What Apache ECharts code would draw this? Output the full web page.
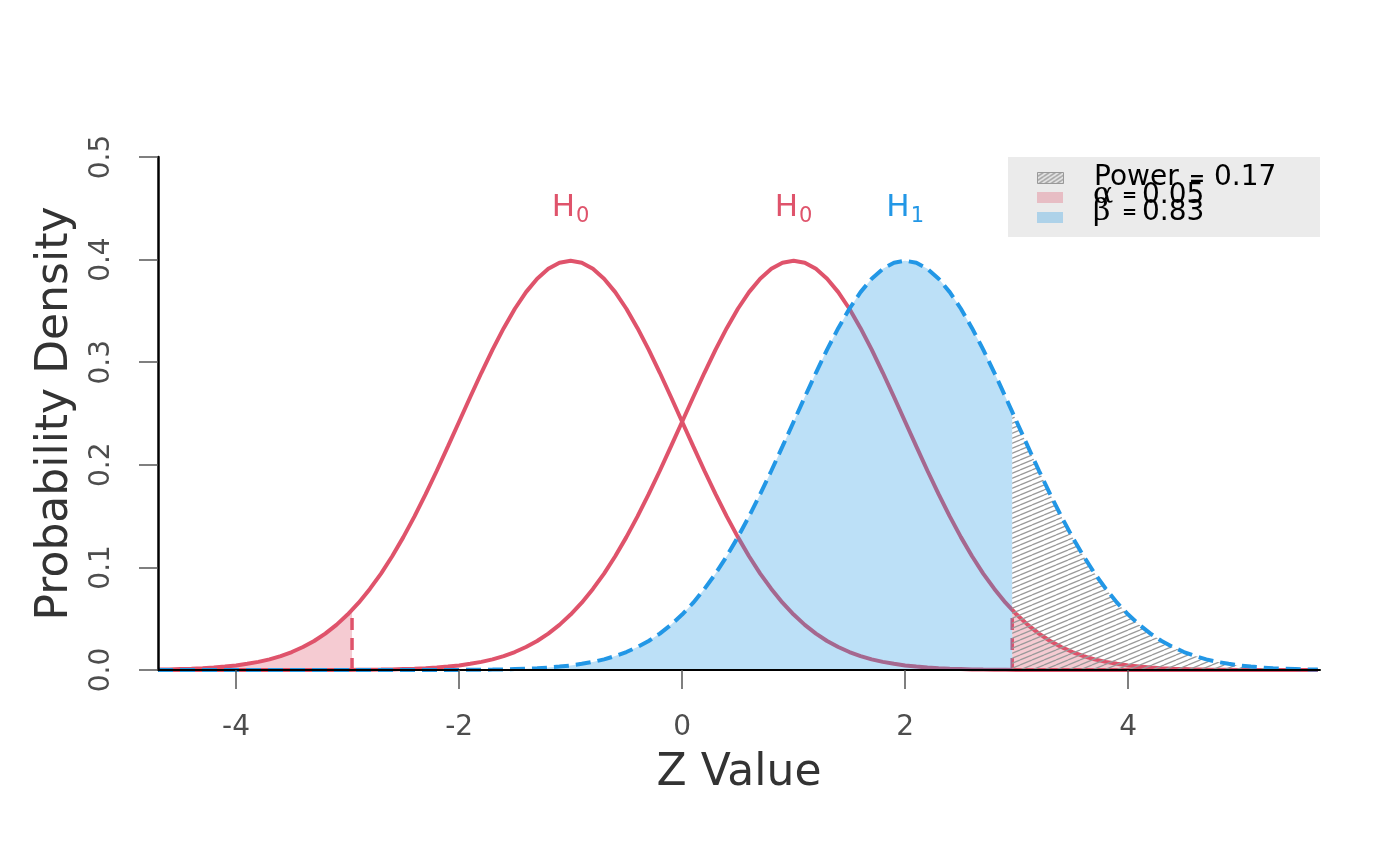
<!DOCTYPE html>
<html>
<head>
<meta charset="utf-8">
<title>Power plot</title>
<script src="https://cdn.jsdelivr.net/npm/echarts@6/dist/echarts.min.js"></script>
<style>
  html, body { margin: 0; padding: 0; background: #fff; }
  #chart { width: 1400px; height: 866px; }
</style>
</head>
<body>
<div id="chart"></div>
<script>
// z grid, -4.7 .. 5.7 in steps of 0.1
const zValues = [
  -4.7, -4.6, -4.5, -4.4, -4.3, -4.2, -4.1, -4.0, -3.9, -3.8,
  -3.7, -3.6, -3.5, -3.4, -3.3, -3.2, -3.1, -3.0, -2.9, -2.8,
  -2.7, -2.6, -2.5, -2.4, -2.3, -2.2, -2.1, -2.0, -1.9, -1.8,
  -1.7, -1.6, -1.5, -1.4, -1.3, -1.2, -1.1, -1.0, -0.9, -0.8,
  -0.7, -0.6, -0.5, -0.4, -0.3, -0.2, -0.1, 0.0, 0.1, 0.2,
  0.3, 0.4, 0.5, 0.6, 0.7, 0.8, 0.9, 1.0, 1.1, 1.2,
  1.3, 1.4, 1.5, 1.6, 1.7, 1.8, 1.9, 2.0, 2.1, 2.2,
  2.3, 2.4, 2.5, 2.6, 2.7, 2.8, 2.9, 3.0, 3.1, 3.2,
  3.3, 3.4, 3.5, 3.6, 3.7, 3.8, 3.9, 4.0, 4.1, 4.2,
  4.3, 4.4, 4.5, 4.6, 4.7, 4.8, 4.9, 5.0, 5.1, 5.2,
  5.3, 5.4, 5.5, 5.6, 5.7
];

// H0 centred on -1
const h0LeftDensity = [
  .0004, .0006, .0009, .0012, .0017, .0024, .0033, .0044, .0060, .0079,
  .0104, .0136, .0175, .0224, .0283, .0355, .0440, .0540, .0656, .0790,
  .0940, .1109, .1295, .1497, .1714, .1942, .2179, .2420, .2661, .2897,
  .3123, .3332, .3521, .3683, .3814, .3910, .3970, .3989, .3970, .3910,
  .3814, .3683, .3521, .3332, .3123, .2897, .2661, .2420, .2179, .1942,
  .1714, .1497, .1295, .1109, .0940, .0790, .0656, .0540, .0440, .0355,
  .0283, .0224, .0175, .0136, .0104, .0079, .0060, .0044, .0033, .0024,
  .0017, .0012, .0009, .0006, .0004, .0003, .0002, .0001, .0001, 0,
  0, 0, 0, 0, 0, 0, 0, 0, 0, 0,
  0, 0, 0, 0, 0, 0, 0, 0, 0, 0,
  0, 0, 0, 0, 0
];

// H0 centred on +1
const h0RightDensity = [
  0, 0, 0, 0, 0, 0, 0, 0, 0, 0,
  0, 0, 0, 0, 0, 0, .0001, .0001, .0002, .0003,
  .0004, .0006, .0009, .0012, .0017, .0024, .0033, .0044, .0060, .0079,
  .0104, .0136, .0175, .0224, .0283, .0355, .0440, .0540, .0656, .0790,
  .0940, .1109, .1295, .1497, .1714, .1942, .2179, .2420, .2661, .2897,
  .3123, .3332, .3521, .3683, .3814, .3910, .3970, .3989, .3970, .3910,
  .3814, .3683, .3521, .3332, .3123, .2897, .2661, .2420, .2179, .1942,
  .1714, .1497, .1295, .1109, .0940, .0790, .0656, .0540, .0440, .0355,
  .0283, .0224, .0175, .0136, .0104, .0079, .0060, .0044, .0033, .0024,
  .0017, .0012, .0009, .0006, .0004, .0003, .0002, .0001, .0001, 0,
  0, 0, 0, 0, 0
];

// H1 centred on +2
const h1Density = [
  0, 0, 0, 0, 0, 0, 0, 0, 0, 0,
  0, 0, 0, 0, 0, 0, 0, 0, 0, 0,
  0, 0, 0, 0, 0, 0, .0001, .0001, .0002, .0003,
  .0004, .0006, .0009, .0012, .0017, .0024, .0033, .0044, .0060, .0079,
  .0104, .0136, .0175, .0224, .0283, .0355, .0440, .0540, .0656, .0790,
  .0940, .1109, .1295, .1497, .1714, .1942, .2179, .2420, .2661, .2897,
  .3123, .3332, .3521, .3683, .3814, .3910, .3970, .3989, .3970, .3910,
  .3814, .3683, .3521, .3332, .3123, .2897, .2661, .2420, .2179, .1942,
  .1714, .1497, .1295, .1109, .0940, .0790, .0656, .0540, .0440, .0355,
  .0283, .0224, .0175, .0136, .0104, .0079, .0060, .0044, .0033, .0024,
  .0017, .0012, .0009, .0006, .0004
];

const critValue = 2.96;      // rejection boundary (+/-)
const h0AtCrit = 0.0584;     // H0 density at the boundary
const h1AtCrit = 0.2516;     // H1 density at the boundary

const curveLabels = [
  { name: "0", z: -1, y: 0.448, color: "#DF536B" },
  { name: "0", z: 1, y: 0.448, color: "#DF536B" },
  { name: "1", z: 2, y: 0.448, color: "#2297E6" }
];

const xTicks = [-4, -2, 0, 2, 4];
const legendItems = ["Power", "0.17", "0.05", "0.83"];

const RED = "#DF536B";
const BLUE = "#2297E6";
const FONT = "DejaVu Sans";

function pairs(ys) {
  return zValues.map((z, i) => [z, ys[i]]);
}

const alphaLeft = pairs(h0LeftDensity).filter((p) => p[0] <= -critValue);
alphaLeft.push([-critValue, h0AtCrit]);

const alphaRight = [[critValue, h0AtCrit]].concat(
  pairs(h0RightDensity).filter((p) => p[0] >= critValue)
);

const betaArea = pairs(h1Density).filter((p) => p[0] <= critValue);
betaArea.push([critValue, h1AtCrit]);

const powerArea = [[critValue, h1AtCrit]].concat(
  pairs(h1Density).filter((p) => p[0] >= critValue)
);

function makeHatch(w, h, color, lw) {
  const c = document.createElement("canvas");
  c.width = w;
  c.height = h;
  const ctx = c.getContext("2d");
  ctx.strokeStyle = color;
  ctx.lineWidth = lw;
  [-h, 0, h].forEach((k) => {
    ctx.beginPath();
    ctx.moveTo(0, h + k);
    ctx.lineTo(w, k);
    ctx.stroke();
  });
  return c;
}

const hatch = makeHatch(12, 5, "#9a9a9a", 1.3);
const legendHatch = makeHatch(6, 4, "#8a8a8a", 1.3);

const chart = echarts.init(document.getElementById("chart"), null, { renderer: "canvas" });

function areaSeries(data, fill, z) {
  return {
    type: "line",
    z: z,
    data: data,
    symbol: "none",
    silent: true,
    lineStyle: { width: 0 },
    areaStyle: { color: fill, opacity: 1 }
  };
}

function curveSeries(ys, color, dashed, z) {
  return {
    type: "line",
    z: z,
    data: pairs(ys),
    symbol: "none",
    silent: true,
    lineStyle: { color: color, width: 4, type: dashed ? [15, 7] : "solid" }
  };
}

function critSeries(z0) {
  return {
    type: "line",
    z: 3,
    data: [[z0, 0], [z0, h0AtCrit]],
    symbol: "none",
    silent: true,
    lineStyle: { color: RED, width: 3.5, type: [12, 8] }
  };
}

const option = {
  animation: false,
  backgroundColor: "#fff",
  grid: { left: 158, right: 80, top: 157, bottom: 196 },
  xAxis: {
    type: "value",
    min: -4.7,
    max: 5.72,
    name: "Z Value",
    nameLocation: "middle",
    nameGap: 82,
    nameTextStyle: { fontFamily: FONT, fontSize: 44, color: "#333" },
    axisLine: { show: true, onZero: false, lineStyle: { color: "#000", width: 2 } },
    axisTick: { show: true, length: 19, customValues: xTicks, lineStyle: { color: "#555", width: 1.5 } },
    axisLabel: {
      customValues: xTicks,
      margin: 44,
      fontFamily: FONT,
      fontSize: 28,
      color: "#4d4d4d"
    },
    splitLine: { show: false },
    z: 10
  },
  yAxis: {
    type: "value",
    min: 0,
    max: 0.5,
    interval: 0.1,
    name: "Probability Density",
    nameLocation: "middle",
    nameRotate: 90,
    nameGap: 80,
    nameTextStyle: { fontFamily: FONT, fontSize: 44, color: "#333" },
    axisLine: { show: true, onZero: false, lineStyle: { color: "#000", width: 2.5 } },
    axisTick: { show: true, length: 19, lineStyle: { color: "#555", width: 1.5 } },
    axisLabel: {
      rotate: 90,
      margin: 42,
      fontFamily: FONT,
      fontSize: 28,
      color: "#4d4d4d",
      formatter: (v) => v.toFixed(1)
    },
    splitLine: { show: false },
    z: 10
  },
  series: [
    areaSeries(alphaLeft, "rgba(223,83,107,0.3)", 2),
    areaSeries(alphaRight, "rgba(223,83,107,0.3)", 2),
    curveSeries(h0LeftDensity, RED, false, 3),
    curveSeries(h0RightDensity, RED, false, 3),
    critSeries(-critValue),
    critSeries(critValue),
    areaSeries(betaArea, "rgba(34,151,230,0.3)", 4),
    areaSeries(powerArea, { image: hatch, repeat: "repeat" }, 4),
    curveSeries(h1Density, BLUE, true, 5),
    {
      type: "scatter",
      z: 6,
      symbolSize: 0,
      silent: true,
      itemStyle: { opacity: 1 },
      data: curveLabels.map((d) => ({
        value: [d.z, d.y],
        label: {
          show: true,
          position: "inside",
          opacity: 1,
          formatter: "{h|H}{s|" + d.name + "}",
          rich: {
            h: { fontFamily: FONT, fontSize: 31, color: d.color, verticalAlign: "bottom", lineHeight: 34, padding: [0, 1, 4, 0] },
            s: { fontFamily: FONT, fontSize: 21, color: d.color, verticalAlign: "bottom", lineHeight: 30 }
          }
        }
      }))
    }
  ],
  graphic: [
    { type: "rect", left: 1008, top: 157, shape: { width: 312, height: 80 }, style: { fill: "#ebebeb" }, silent: true },
    { type: "rect", left: 1037, top: 172, shape: { width: 26, height: 11 },
      style: { fill: { image: legendHatch, repeat: "repeat" }, stroke: "#999", lineWidth: 1 }, silent: true },
    { type: "rect", left: 1037, top: 192, shape: { width: 26, height: 11 }, style: { fill: "rgba(223,83,107,0.3)" }, silent: true },
    { type: "rect", left: 1037, top: 212, shape: { width: 26, height: 11 }, style: { fill: "rgba(34,151,230,0.3)" }, silent: true },
    { type: "text", left: 1094, top: 164, style: { text: legendItems[0], font: "28px " + FONT, fill: "#000" }, silent: true },
    { type: "text", left: 1189, top: 171, style: { text: "=", font: "bold 19px " + FONT, fill: "#000" }, silent: true },
    { type: "text", left: 1214, top: 164, style: { text: legendItems[1], font: "28px " + FONT, fill: "#000" }, silent: true },
    { type: "text", left: 1093, top: 180, style: { text: "\u03b1", font: "30px DejaVu Serif", fill: "#000" }, silent: true },
    { type: "text", left: 1122, top: 187, style: { text: "=", font: "bold 18px " + FONT, fill: "#000" }, silent: true },
    { type: "text", left: 1142, top: 182, style: { text: legendItems[2], font: "28px " + FONT, fill: "#000" }, silent: true },
    { type: "text", left: 1093, top: 197, style: { text: "\u03b2", font: "30px DejaVu Serif", fill: "#000" }, silent: true },
    { type: "text", left: 1122, top: 204, style: { text: "=", font: "bold 18px " + FONT, fill: "#000" }, silent: true },
    { type: "text", left: 1142, top: 199, style: { text: legendItems[3], font: "28px " + FONT, fill: "#000" }, silent: true }
  ]
};

chart.setOption(option);
</script>
</body>
</html>
